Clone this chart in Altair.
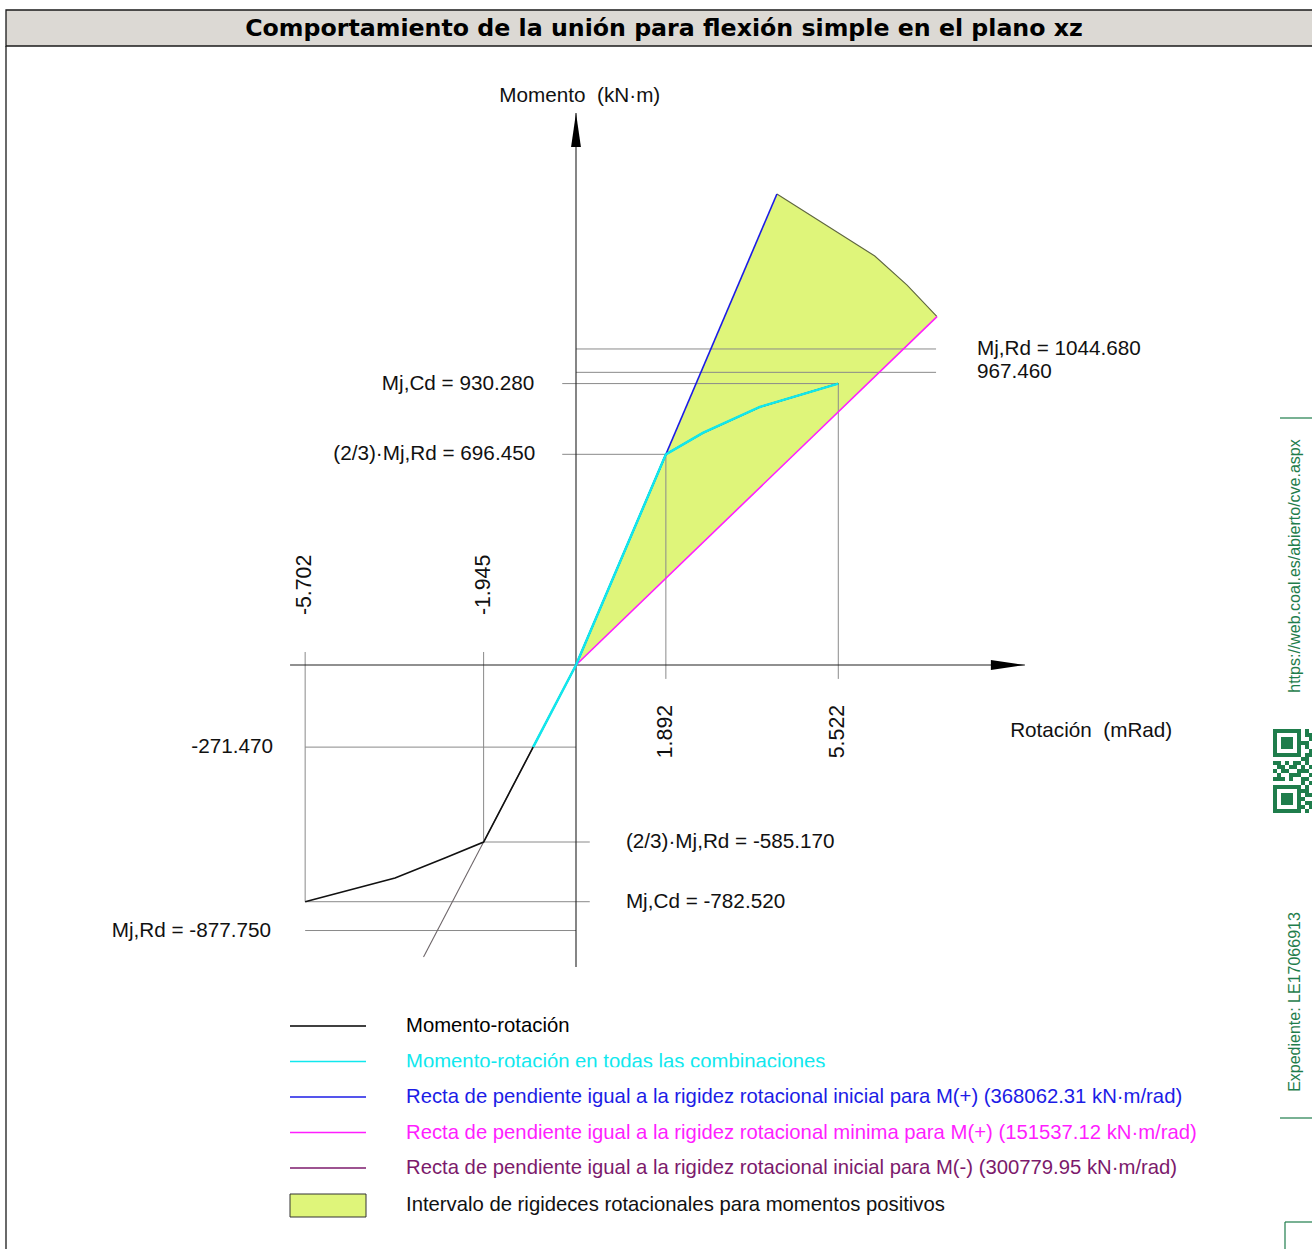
import altair as alt
import pandas as pd

# ---------------------------------------------------------------------------
# Joint data: rotational stiffness (kN·m/rad) and characteristic values
# ---------------------------------------------------------------------------
S_INI_POS = 368062.31
S_MIN_POS = 151537.12
S_INI_NEG = 300779.95

MJ_RD_POS = 1044.680
M_POS_AUX = 967.460
MJ_CD_POS = 930.280
M23_RD_POS = 696.450
M_NEG_AUX = -271.470
M23_RD_NEG = -585.170
MJ_CD_NEG = -782.520
MJ_RD_NEG = -877.750

ROT_23_POS = 1.892
ROT_CD_POS = 5.522
ROT_23_NEG = -1.945
ROT_CD_NEG = -5.702

# Momento-rotación curve (mRad, kN·m)
curve_rot = [-5.702, -3.81, -2.76, -1.945, 0.0, 1.892, 2.67, 3.87, 5.522]
curve_mom = [-782.52, -704.0, -638.0, -585.17, 0.0, 696.45, 767.0, 853.0, 930.28]

# Momento-rotación in all combinations
comb_pos_rot = [0.0, 1.892, 2.67, 3.87, 5.522]
comb_pos_mom = [0.0, 696.45, 767.0, 853.0, 930.28]
comb_neg_mom = [0.0, -271.47]

# extent of the stiffness lines (mRad)
ini_pos_end = 4.23
min_pos_end = 7.60
ini_neg_end = -3.21

# outer boundary of the positive stiffness interval
edge_rot = [4.23, 6.29, 6.97, 7.60]
edge_mom = [1557.0, 1352.0, 1256.0, 1152.0]

# axis extents
x_axis_ext = [-6.02, 9.45]
y_axis_ext = [-998.0, 1825.0]

NBSP = "\u00a0"
TITLE = "Comportamiento de la unión para flexión simple en el plano xz"
X_TITLE = "Rotación" + NBSP + NBSP + "(mRad)"
Y_TITLE = "Momento" + NBSP + NBSP + "(kN·m)"
LEGEND = [
    ("Momento-rotación", "#000000", "line"),
    ("Momento-rotación en todas las combinaciones", "#10e8ee", "line"),
    (f"Recta de pendiente igual a la rigidez rotacional inicial para M(+) ({S_INI_POS:.2f} kN·m/rad)", "#1c1ce6", "line"),
    (f"Recta de pendiente igual a la rigidez rotacional minima para M(+) ({S_MIN_POS:.2f} kN·m/rad)", "#ff1eff", "line"),
    (f"Recta de pendiente igual a la rigidez rotacional inicial para M(-) ({S_INI_NEG:.2f} kN·m/rad)", "#7c1a6c", "line"),
    ("Intervalo de rigideces rotacionales para momentos positivos", "#dff57a", "box"),
]

# verification code block of the document stamp
QR_ROWS = [
    "1111111010", "1000001011", "1011101001", "1011101110", "1011101010",
    "1000001001", "1111111011", "0000000110", "1101011010", "0110110101",
    "1011001110", "0100111001", "1110100110", "0000000101", "1111111010",
    "1000001110", "1011101011", "1011101100", "1011101011", "1000001101",
    "1111111010",
]

# ---------------------------------------------------------------------------
# Canvas and scales
# ---------------------------------------------------------------------------
W, H = 1312, 1249
ORIGIN_X, ORIGIN_Y = 576, 665
PX_PER_MRAD = 47.5
PX_PER_KNM = 0.3025
X_DOM = [-ORIGIN_X / PX_PER_MRAD, (W - ORIGIN_X) / PX_PER_MRAD]
Y_DOM = [(ORIGIN_Y - H) / PX_PER_KNM, ORIGIN_Y / PX_PER_KNM]

FONT = "Liberation Sans"
GREY = "#8a8a8a"
GREEN = "#1f7d4c"
LBL = 20.7


def xe(field):
    return alt.X(field, type="quantitative",
                 scale=alt.Scale(domain=X_DOM, nice=False, zero=False), axis=None)


def ye(field):
    return alt.Y(field, type="quantitative",
                 scale=alt.Scale(domain=Y_DOM, nice=False, zero=False), axis=None)


def one():
    return pd.DataFrame({"k": [0]})


def rules(rows, color, width):
    df = pd.DataFrame(rows, columns=["x0", "x1", "y0", "y1"])
    return alt.Chart(df).mark_rule(color=color, strokeWidth=width).encode(
        x=xe("x0"), x2=alt.X2("x1"), y=ye("y0"), y2=alt.Y2("y1"))


def polyline(rot, mom, color, width):
    df = pd.DataFrame({"r": rot, "m": mom, "i": range(len(rot))})
    return alt.Chart(df).mark_line(color=color, strokeWidth=width).encode(
        x=xe("r"), y=ye("m"), order=alt.Order("i:Q"))


def labels(rows, align, angle=0, size=LBL, color="#111111"):
    df = pd.DataFrame(rows, columns=["t", "x", "y"])
    return alt.Chart(df).mark_text(font=FONT, fontSize=size, align=align,
                                   baseline="middle", angle=angle, color=color).encode(
        x=xe("x"), y=ye("y"), text="t:N")


layers = []

# title bar and frame
layers.append(alt.Chart(one()).mark_rect(fill="#dcd9d4", stroke="#1a1a1a", strokeWidth=1.3).encode(
    x=alt.value(6), x2=alt.value(1330), y=alt.value(10), y2=alt.value(46)))
layers.append(alt.Chart(one()).mark_rule(color="#1a1a1a", strokeWidth=1.3).encode(
    x=alt.value(6), y=alt.value(46), y2=alt.value(H)))
layers.append(alt.Chart(one()).mark_text(font="DejaVu Sans", fontWeight="bold", fontSize=23.7,
                                         align="center", baseline="middle", color="#000").encode(
    x=alt.value(664), y=alt.value(29), text=alt.value(TITLE)))

# stiffness interval for positive moments
k_min = S_MIN_POS / 1000.0
area_rot = [0.0] + edge_rot
area_low = [k_min * r for r in area_rot]
area_up = [0.0] + edge_mom
area_df = pd.DataFrame({"r": area_rot, "lo": area_low, "up": area_up})
layers.append(alt.Chart(area_df).mark_area(color="#dff57a", opacity=1).encode(
    x=xe("r"), y=ye("lo"), y2=alt.Y2("up")))

# construction lines
h_lines = [
    (0.0, 7.58, MJ_RD_POS, MJ_RD_POS),
    (0.0, 7.58, M_POS_AUX, M_POS_AUX),
    (-0.29, ROT_CD_POS, MJ_CD_POS, MJ_CD_POS),
    (-0.29, ROT_23_POS, M23_RD_POS, M23_RD_POS),
    (ROT_CD_NEG, 0.0, M_NEG_AUX, M_NEG_AUX),
    (ROT_23_NEG, 0.29, M23_RD_NEG, M23_RD_NEG),
    (ROT_CD_NEG, 0.29, MJ_CD_NEG, MJ_CD_NEG),
    (ROT_CD_NEG, 0.0, MJ_RD_NEG, MJ_RD_NEG),
]
v_lines = [
    (ROT_23_POS, ROT_23_POS, -46.0, M23_RD_POS),
    (ROT_CD_POS, ROT_CD_POS, -46.0, MJ_CD_POS),
    (ROT_CD_NEG, ROT_CD_NEG, 43.0, MJ_CD_NEG),
    (ROT_23_NEG, ROT_23_NEG, 43.0, M23_RD_NEG),
]
layers.append(rules(h_lines + v_lines, GREY, 1))

# axes with arrowheads
layers.append(rules([(x_axis_ext[0], x_axis_ext[1], 0.0, 0.0),
                     (0.0, 0.0, y_axis_ext[0], y_axis_ext[1])], "#222222", 1.1))
arrow_r = pd.DataFrame({"x": [x_axis_ext[1]], "y": [0.0]})
arrow_u = pd.DataFrame({"x": [0.0], "y": [y_axis_ext[1]]})
layers.append(alt.Chart(arrow_r).mark_point(shape="M0,0L-2,-0.29L-2,0.29Z", filled=True,
                                            size=1156, color="#000", opacity=1).encode(
    x=xe("x"), y=ye("y")))
layers.append(alt.Chart(arrow_u).mark_point(shape="M0,0L-0.29,2L0.29,2Z", filled=True,
                                            size=1156, color="#000", opacity=1).encode(
    x=xe("x"), y=ye("y")))

# stiffness lines
k_ini_pos = S_INI_POS / 1000.0
k_ini_neg = S_INI_NEG / 1000.0
layers.append(polyline([0.0, ini_neg_end], [0.0, k_ini_neg * ini_neg_end], "#6c6468", 1.1))
layers.append(polyline(edge_rot, edge_mom, "#5f6640", 1.1))
layers.append(polyline([0.0, min_pos_end], [0.0, k_min * min_pos_end], "#ff1eff", 1.6))
layers.append(polyline([0.0, ini_pos_end], [0.0, k_ini_pos * ini_pos_end], "#1c1ce6", 1.6))

# moment-rotation curves
layers.append(polyline(curve_rot, curve_mom, "#111111", 1.6))
layers.append(polyline(comb_pos_rot, comb_pos_mom, "#10e8ee", 2.5))
layers.append(polyline([0.0, M_NEG_AUX / k_ini_neg], comb_neg_mom, "#10e8ee", 2.5))

# value labels
layers.append(labels([
    (f"Mj,Cd = {MJ_CD_POS:.3f}", -0.88, MJ_CD_POS),
    (f"(2/3)·Mj,Rd = {M23_RD_POS:.3f}", -0.86, M23_RD_POS),
    (f"{M_NEG_AUX:.3f}", -6.38, M_NEG_AUX),
    (f"Mj,Rd = {MJ_RD_NEG:.3f}", -6.42, MJ_RD_NEG),
], "right"))
layers.append(labels([
    (f"Mj,Rd = {MJ_RD_POS:.3f}", 8.44, MJ_RD_POS),
    (f"{M_POS_AUX:.3f}", 8.44, M_POS_AUX),
    (f"(2/3)·Mj,Rd = {M23_RD_NEG:.3f}", 1.05, M23_RD_NEG),
    (f"Mj,Cd = {MJ_CD_NEG:.3f}", 1.05, MJ_CD_NEG),
    (X_TITLE, 9.14, -218.0),
], "left"))
layers.append(labels([(Y_TITLE, 0.08, 1881.0)], "center"))
layers.append(labels([(f"{ROT_CD_NEG:.3f}", ROT_CD_NEG, 165.0),
                      (f"{ROT_23_NEG:.3f}", ROT_23_NEG, 165.0)], "left", angle=270, size=21.3))
layers.append(labels([(f"{ROT_23_POS:.3f}", ROT_23_POS, -132.0),
                      (f"{ROT_CD_POS:.3f}", ROT_CD_POS, -132.0)], "right", angle=270, size=21.3))

# legend
row_y = [1026, 1061.5, 1097, 1132.5, 1168, 1205]
for (txt, col, kind), yy in zip(LEGEND, row_y):
    if kind == "line":
        layers.append(alt.Chart(one()).mark_rule(color=col, strokeWidth=1.5).encode(
            x=alt.value(290), x2=alt.value(366), y=alt.value(yy)))
        text_col = col
    else:
        layers.append(alt.Chart(one()).mark_rect(fill=col, stroke="#333333", strokeWidth=1).encode(
            x=alt.value(290), x2=alt.value(366), y=alt.value(yy - 11), y2=alt.value(yy + 12)))
        text_col = "#111111"
    layers.append(alt.Chart(one()).mark_text(font=FONT, fontSize=20.3, align="left",
                                             baseline="middle", color=text_col).encode(
        x=alt.value(406), y=alt.value(yy), text=alt.value(txt)))
# the combinations row is printed cut at its foot
layers.append(alt.Chart(one()).mark_rect(fill="white").encode(
    x=alt.value(400), x2=alt.value(840), y=alt.value(1067.2), y2=alt.value(1077)))

# document stamp on the right margin
layers.append(alt.Chart(one()).mark_rule(color=GREEN, strokeWidth=1.2).encode(
    x=alt.value(1280), x2=alt.value(1312), y=alt.value(418)))
layers.append(alt.Chart(one()).mark_rule(color=GREEN, strokeWidth=1.2).encode(
    x=alt.value(1280), x2=alt.value(1312), y=alt.value(1118)))
layers.append(alt.Chart(one()).mark_text(font=FONT, fontSize=16, align="center", baseline="middle",
                                         angle=270, color=GREEN).encode(
    x=alt.value(1295), y=alt.value(566), text=alt.value("https://web.coal.es/abierto/cve.aspx")))
layers.append(alt.Chart(one()).mark_text(font=FONT, fontSize=16, align="center", baseline="middle",
                                         angle=270, color=GREEN).encode(
    x=alt.value(1295), y=alt.value(1002), text=alt.value("Expediente: LE17066913")))

QR_X0, QR_Y0, QR_MOD = 1273, 729, 4
qr_cells = [(QR_X0 + c * QR_MOD, QR_X0 + (c + 1) * QR_MOD, QR_Y0 + r * QR_MOD, QR_Y0 + (r + 1) * QR_MOD)
            for r, row in enumerate(QR_ROWS) for c, bit in enumerate(row) if bit == "1"]
qr_df = pd.DataFrame(qr_cells, columns=["x0", "x1", "y0", "y1"])
layers.append(alt.Chart(qr_df).mark_rect(fill=GREEN).encode(
    x=alt.X("x0:Q", scale=None), x2="x1:Q", y=alt.Y("y0:Q", scale=None), y2="y1:Q"))

layers.append(alt.Chart(one()).mark_rule(color=GREEN, strokeWidth=1.2).encode(
    x=alt.value(1285), x2=alt.value(1312), y=alt.value(1222)))
layers.append(alt.Chart(one()).mark_rule(color=GREEN, strokeWidth=1.2).encode(
    x=alt.value(1285), y=alt.value(1222), y2=alt.value(H)))

chart = alt.layer(*layers).resolve_scale(x="independent", y="independent").properties(
    width=W, height=H, padding=0, autosize=alt.AutoSizeParams(type="none"),
    background="white",
).configure_view(stroke=None)

chart.save("out.html", embed_options={"renderer": "svg", "actions": False})
